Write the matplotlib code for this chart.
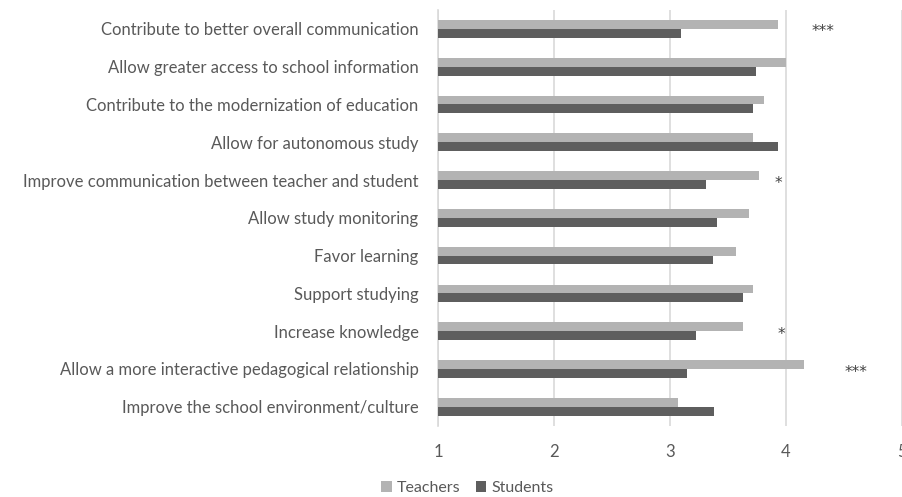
import matplotlib
matplotlib.use("Agg")
import matplotlib.pyplot as plt
import numpy as np

categories = [
    "Contribute to better overall communication",
    "Allow greater access to school information",
    "Contribute to the modernization of education",
    "Allow for autonomous study",
    "Improve communication between teacher and student",
    "Allow study monitoring",
    "Favor learning",
    "Support studying",
    "Increase knowledge",
    "Allow a more interactive pedagogical relationship",
    "Improve the school environment/culture",
]
teachers = [3.93, 4.00, 3.81, 3.72, 3.77, 3.68, 3.57, 3.72, 3.63, 4.16, 3.07]
students = [3.10, 3.74, 3.72, 3.93, 3.31, 3.41, 3.37, 3.63, 3.23, 3.15, 3.38]
sig_labels = ["***", "", "", "", "*", "", "", "", "*", "***", ""]
sig_pos = [4.32, 0, 0, 0, 3.94, 0, 0, 0, 3.96, 4.61, 0]
xticks = [1, 2, 3, 4, 5]

plt.rcParams['font.family'] = ['Lato', 'DejaVu Sans']
text_color = "#595959"
c_teach = "#b3b3b3"
c_stud = "#5e5e5e"

fig = plt.figure(figsize=(9.02, 4.97), dpi=100)
ax = fig.add_axes([0.4856, 0.1435, 0.5140, 0.8365])

y = np.arange(len(categories))
h = 0.235
ax.barh(y - h / 2, np.array(teachers) - 1, left=1, height=h, color=c_teach, label="Teachers", zorder=3)
ax.barh(y + h / 2, np.array(students) - 1, left=1, height=h, color=c_stud, label="Students", zorder=3)

for yi, lab, xp in zip(y, sig_labels, sig_pos):
    if lab:
        ax.text(xp, yi + 0.08, lab, ha="center", va="center", fontsize=11,
                color="#404040", family="DejaVu Sans")

ax.set_xlim(1, 5)
ax.set_ylim(len(categories) - 0.5, -0.5)
ax.set_xticks(xticks)
ax.set_xticklabels([str(t) for t in xticks])
ax.set_yticks(y)
ax.set_yticklabels(categories)
ax.tick_params(axis="both", length=0, colors=text_color, labelsize=12)
ax.tick_params(axis="y", pad=14)
ax.tick_params(axis="x", pad=13)
ax.xaxis.grid(True, color="#d9d9d9", linewidth=1.2, zorder=0)
for s in ["top", "right", "bottom"]:
    ax.spines[s].set_visible(False)
ax.spines["left"].set_color("#d9d9d9")
ax.spines["left"].set_linewidth(1.2)

leg = fig.legend(loc="lower center", bbox_to_anchor=(0.518, -0.025), ncol=2, frameon=False,
                 fontsize=11.5, handlelength=0.65, handleheight=0.65, handletextpad=0.3,
                 columnspacing=1.0)
for t in leg.get_texts():
    t.set_color(text_color)

fig.savefig("out.png", dpi=100)
